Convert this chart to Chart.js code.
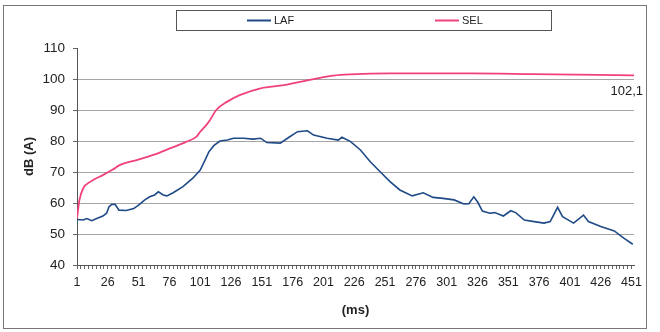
<!DOCTYPE html>
<html>
<head>
<meta charset="utf-8">
<script src="https://cdn.jsdelivr.net/npm/chart.js@4.4.1/dist/chart.umd.min.js"></script>
<style>
  body { margin: 0; background: #fff; }
  canvas { display: block; }
</style>
</head>
<body>
<canvas id="chart" width="660" height="332"></canvas>
<script>
// valores (ms, dB(A))
const lafMs = [1, 6, 9, 13, 17, 22, 25, 27, 29, 32, 35, 41, 47, 51, 56, 60, 64, 67, 71, 74, 79, 87, 95, 101, 105, 108, 112, 117, 123, 128, 136, 144, 150, 155, 166, 173, 180, 188, 193, 204, 213, 216, 223, 231, 239, 247, 255, 263, 273, 282, 290, 298, 307, 315, 319, 323, 326, 330, 336, 340, 347, 353, 357, 364, 372, 380, 385, 391, 395, 404, 412, 416, 426, 437, 445, 452];
const lafDb = [54.7, 54.5, 55, 54.3, 55, 55.8, 56.7, 58.8, 59.5, 59.6, 57.7, 57.6, 58.2, 59.3, 61, 62, 62.6, 63.6, 62.6, 62.3, 63.3, 65.3, 68, 70.6, 73.9, 76.5, 78.5, 80, 80.3, 80.9, 80.9, 80.6, 80.9, 79.5, 79.3, 81.2, 83, 83.3, 81.9, 80.9, 80.3, 81.2, 79.8, 77.1, 73.3, 70.1, 66.9, 64.2, 62.3, 63.3, 61.8, 61.5, 61, 59.7, 59.8, 62, 60.4, 57.4, 56.7, 56.9, 55.8, 57.5, 56.9, 54.5, 54, 53.5, 54, 58.6, 55.6, 53.5, 56.1, 54, 52.4, 51, 48.6, 46.7];

const selMs = [1, 3, 6, 12, 22, 30, 36, 50, 63, 77, 90, 98, 101, 106, 109, 114, 123, 133, 150, 169, 182, 196, 209, 223, 255, 320, 370, 453];
const selDb = [55, 61, 64.7, 66.9, 69, 70.8, 72.3, 73.9, 75.5, 77.7, 79.8, 81.4, 83, 85.2, 86.8, 90, 92.7, 94.8, 97, 98, 99.1, 100.2, 101.1, 101.5, 101.8, 101.8, 101.6, 101.2];

const seriesNames = ["LAF", "SEL"];
const seriesColors = ["#1f4a86", "#f0417c"];
const endLabel = "102,1";

// eje x: marcas cada 3,125 ms, etiqueta cada 25
const xTickStep = 3.125;
const xLabelStep = 25;
const xMin = 1;
const xMax = 453;

const toPoints = (xs, ys) => xs.map((x, i) => ({ x: x, y: ys[i] }));

// marco exterior, leyenda con borde y etiqueta final
const decorPlugin = {
    id: "decor",
    beforeDraw(chart) {
        const ctx = chart.ctx;
        ctx.save();
        ctx.fillStyle = "#fff";
        ctx.fillRect(0, 0, chart.width, chart.height);
        ctx.strokeStyle = "#777";
        ctx.lineWidth = 1;
        ctx.strokeRect(3.5, 5.5, 643, 323);
        ctx.restore();
    },
    afterDraw(chart) {
        const ctx = chart.ctx;
        ctx.save();
        ctx.strokeStyle = "#555";
        ctx.lineWidth = 1;
        ctx.strokeRect(176.5, 10.5, 375, 20);

        const items = [{ x: 247, i: 0 }, { x: 435, i: 1 }];
        ctx.font = "11px 'Liberation Sans', Arial, sans-serif";
        ctx.textBaseline = "middle";
        items.forEach(it => {
            const ds = chart.data.datasets[it.i];
            ctx.strokeStyle = ds.borderColor;
            ctx.lineWidth = 2;
            ctx.beginPath();
            ctx.moveTo(it.x, 20.5);
            ctx.lineTo(it.x + 24, 20.5);
            ctx.stroke();
            ctx.fillStyle = "#222";
            ctx.fillText(ds.label, it.x + 27, 21);
        });

        // etiqueta del ultimo valor de SEL
        const meta = chart.getDatasetMeta(1);
        const last = meta.data[meta.data.length - 1];
        ctx.font = "13px 'Liberation Sans', Arial, sans-serif";
        ctx.textAlign = "right";
        ctx.fillStyle = "#222";
        ctx.fillText(endLabel, 643, last.y + 16);
        ctx.restore();
    }
};

new Chart(document.getElementById("chart"), {
    type: "line",
    data: {
        datasets: [
            {
                label: seriesNames[0],
                data: toPoints(lafMs, lafDb),
                borderColor: seriesColors[0],
                borderWidth: 1.6,
                pointRadius: 0,
                tension: 0,
                fill: false
            },
            {
                label: seriesNames[1],
                data: toPoints(selMs, selDb),
                borderColor: seriesColors[1],
                borderWidth: 1.8,
                pointRadius: 0,
                cubicInterpolationMode: "monotone",
                fill: false
            }
        ]
    },
    options: {
        responsive: false,
        animation: false,
        devicePixelRatio: 1,
        layout: { padding: { left: 0, right: 26, top: 48, bottom: 0 } },
        plugins: {
            legend: { display: false },
            tooltip: { enabled: false }
        },
        scales: {
            x: {
                type: "linear",
                min: xMin,
                max: xMax,
                afterFit: s => { s.height = 67; },
                afterBuildTicks: s => {
                    const t = [];
                    for (let v = xMin; v <= xMax; v += xTickStep) t.push({ value: v });
                    s.ticks = t;
                },
                ticks: {
                    autoSkip: false,
                    maxRotation: 0,
                    padding: 6,
                    color: "#222",
                    font: { family: "'Liberation Sans', Arial, sans-serif", size: 12.5 },
                    callback: v => {
                        const r = (v - xMin) / xLabelStep;
                        return Math.abs(r - Math.round(r)) < 0.001 ? String(Math.round(v)) : "";
                    }
                },
                grid: {
                    drawOnChartArea: false,
                    tickLength: 4,
                    tickColor: "#666"
                },
                border: { color: "#555" },
                title: {
                    display: true,
                    text: "(ms)",
                    color: "#222",
                    font: { family: "'Liberation Sans', Arial, sans-serif", size: 13, weight: "bold" },
                    padding: { top: 0, bottom: 14 }
                }
            },
            y: {
                min: 40,
                max: 110,
                afterFit: s => { s.width = 77; },
                ticks: {
                    stepSize: 10,
                    padding: 8,
                    color: "#222",
                    font: { family: "'Liberation Sans', Arial, sans-serif", size: 13.5 }
                },
                grid: {
                    tickLength: 4,
                    tickColor: "#666",
                    color: c => (c.tick && c.tick.value === 110 ? "rgba(0,0,0,0)" : "#a5a5a5")
                },
                border: { color: "#555" },
                title: {
                    display: true,
                    text: "dB (A)",
                    color: "#222",
                    font: { family: "'Liberation Sans', Arial, sans-serif", size: 13, weight: "bold" },
                    padding: { top: 22, bottom: 0 }
                }
            }
        }
    },
    plugins: [decorPlugin]
});
</script>
</body>
</html>
